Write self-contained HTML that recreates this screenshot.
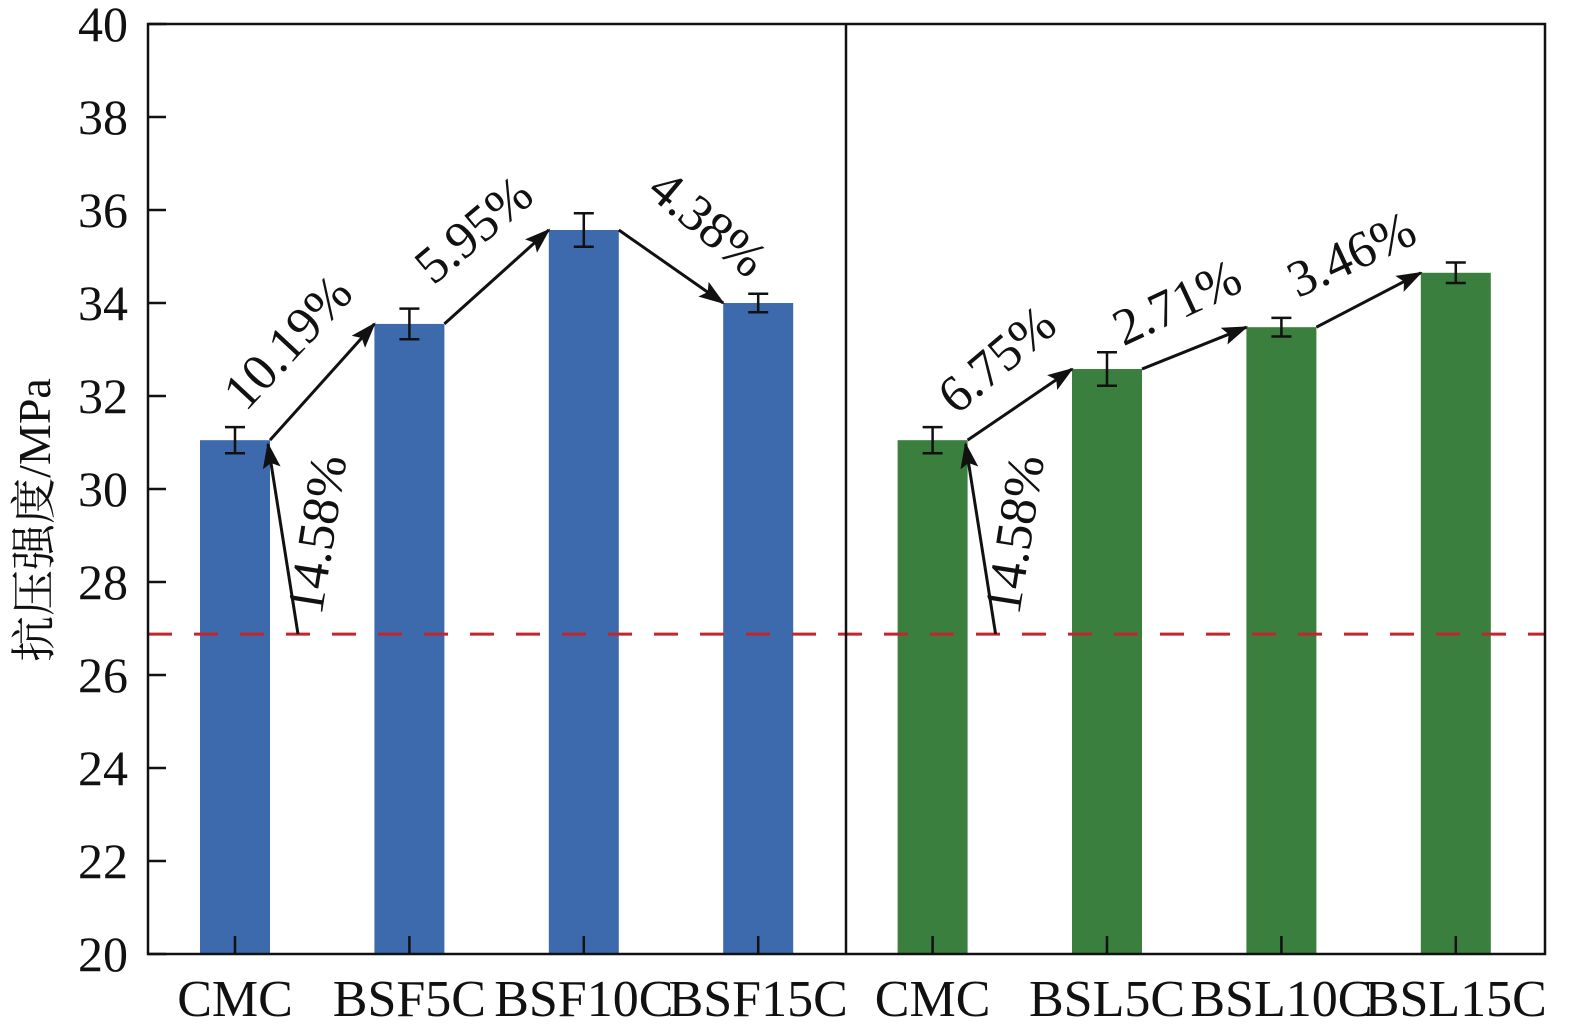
<!DOCTYPE html>
<html><head><meta charset="utf-8"><style>
html,body{margin:0;padding:0;background:#fff;}
svg{display:block;font-family:"Liberation Serif","Noto Serif CJK SC",serif;}
</style></head><body>
<svg id="chart" width="1575" height="1036" viewBox="0 0 1575 1036" xmlns="http://www.w3.org/2000/svg">
<defs>
<marker id="ahb" markerWidth="26" markerHeight="18" refX="24" refY="9" orient="auto" markerUnits="userSpaceOnUse"><path d="M0,0 L26,9 L0,18 L5,9 z" fill="#111"/></marker></defs>
<g id="plot"></g>
</svg>
<script>
const categories = ["CMC","BSF5C","BSF10C","BSF15C","CMC","BSL5C","BSL10C","BSL15C"];
const values = [31.05,33.55,35.57,34.0,31.05,32.58,33.48,34.65];
const errors = [0.28,0.33,0.36,0.2,0.28,0.36,0.2,0.22];
const yTicks = [20,22,24,26,28,30,32,34,36,38,40];
const baseline = 26.88;
const increaseLabels = ["10.19%","5.95%","4.38%","","6.75%","2.71%","3.46%"];
const baseLabel = "14.58%";

const L=148,R=1545,T=24,B=954,ymin=20,ymax=40;
const y=v=>B-(v-ymin)/(ymax-ymin)*(B-T);
const xc=i=>235+i*174.4;
const bw=70;
const NS="http://www.w3.org/2000/svg";
const g=document.getElementById('plot');
function mk(tag,attrs,name,parent){const e=document.createElementNS(NS,tag);for(const k in attrs)e.setAttribute(k,attrs[k]);


(parent||g).appendChild(e);return e;}

categories.forEach((c,i)=>{
  mk('rect',{x:xc(i)-bw/2,y:y(values[i]),width:bw,height:B-y(values[i]),fill:i<4?'#3c6aad':'#3a7f3d'},'bar-'+c.toLowerCase()+'-'+i);
  const x=xc(i),t=y(values[i]+errors[i]),b=y(values[i]-errors[i]);
  mk('path',{d:`M${x},${t}V${b}M${x-10},${t}H${x+10}M${x-10},${b}H${x+10}`,stroke:'#111','stroke-width':2.5,fill:'none'},'error-bar-'+i);
  mk('line',{x1:x,y1:B,x2:x,y2:B-18,stroke:'#111','stroke-width':2.5},'x-tick-'+i);
  const tx=mk('text',{x:x,y:1016,'font-size':52,'text-anchor':'middle',fill:'#111'},'x-label-'+i);
  tx.textContent=c;
});
mk('line',{x1:L,y1:y(baseline),x2:R,y2:y(baseline),stroke:'#c0262e','stroke-width':3,'stroke-dasharray':'24,22'},'baseline-dashed-line');
mk('rect',{x:L,y:T,width:R-L,height:B-T,fill:'none',stroke:'#111','stroke-width':2.5},'plot-frame');
mk('line',{x1:846,y1:T,x2:846,y2:B,stroke:'#111','stroke-width':2.5},'group-divider');
yTicks.forEach(v=>{
  mk('line',{x1:L,y1:y(v),x2:L+18,y2:y(v),stroke:'#111','stroke-width':2.5},'y-tick-'+v);
  const t=mk('text',{x:128,y:y(v)+17,'font-size':50,'text-anchor':'end',fill:'#111'},'y-tick-label-'+v);
  t.textContent=v;
});
const yt=mk('text',{x:0,y:0,'font-size':46,'text-anchor':'middle',fill:'#111',transform:'translate(50,520) rotate(-90)'},'y-axis-title');
yt.textContent='抗压强度/MPa';

const rots=[-47,-40,40,0,-40,-25,-25];
const offs=[[-22,-28],[-12,-34],[26,-30],[0,0],[-12,-32],[-10,-30],[-10,-30]];
for(let i=0;i<7;i++){
  if(i===3)continue;
  const x1=xc(i)+bw/2,y1=y(values[i]),x2=xc(i+1)-bw/2,y2=y(values[i+1]);
  mk('line',{x1:x1,y1:y1,x2:x2,y2:y2,stroke:'#111','stroke-width':3,'marker-end':'url(#ahb)'},'increase-arrow-'+i);
  const mx=(x1+x2)/2+offs[i][0],my=(y1+y2)/2+offs[i][1];
  const t=mk('text',{x:0,y:0,'font-size':52,'text-anchor':'middle',fill:'#111',transform:`translate(${mx},${my}) rotate(${rots[i]})`},'increase-label-'+i);
  t.textContent=increaseLabels[i];
}
[0,4].forEach(i=>{
  const xt=xc(i)+bw/2-2,xb=xt+30;
  mk('line',{x1:xb,y1:y(baseline),x2:xt,y2:y(values[i])+4,stroke:'#111','stroke-width':3,'marker-end':'url(#ahb)'},'base-arrow-'+i);
  const t=mk('text',{x:0,y:0,'font-size':52,'text-anchor':'middle',fill:'#111',transform:`translate(${xb+36},${(y(baseline)+y(values[i]))/2}) rotate(-81)`},'base-increase-label-'+i);
  t.textContent=baseLabel;
});
</script>
</body></html>
